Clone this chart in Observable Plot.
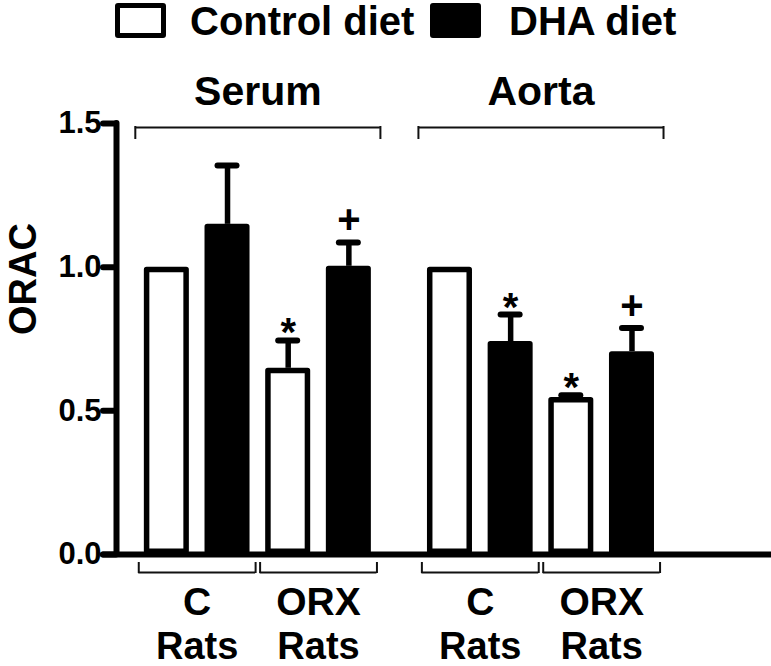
<!DOCTYPE html>
<html><head><meta charset="utf-8">
<script src="https://cdn.jsdelivr.net/npm/d3@7"></script>
<script src="https://cdn.jsdelivr.net/npm/@observablehq/plot@0.6"></script>
<style>
body{margin:0;background:#fff;font-family:"Liberation Sans",Arial,Helvetica,sans-serif;}
#wrap{position:relative;width:771px;height:666px;overflow:hidden;}
#legend{position:relative;height:45px;width:771px;}
.sw{position:absolute;top:3px;height:35px;box-sizing:border-box;border:5.5px solid #000;border-radius:3px;}
.lt{position:absolute;top:1px;font-size:40px;font-weight:bold;line-height:40px;white-space:nowrap;color:#000;}
</style></head><body>
<div id="wrap"><div id="legend"></div><div id="chart"></div></div>
<script>
// ---------- data ----------
const tissues = ["Serum", "Aorta"];
const groups = ["C", "ORX"];
const groupSubLabel = "Rats";
const diets = ["Control diet", "DHA diet"];
// order of values: Serum C, Serum ORX, Aorta C, Aorta ORX
const controlMean = [1.00, 0.648, 1.00, 0.546];
const controlSEM  = [0, 0.097, 0, 0.008];
const controlSig  = ["", "*", "", "*"];
const dhaMean = [1.149, 1.003, 0.741, 0.706];
const dhaSEM  = [0.205, 0.083, 0.094, 0.082];
const dhaSig  = ["", "+", "*", "+"];
const yTicks = [0, 0.5, 1.0, 1.5];
const yTickLabels = ["0.0", "0.5", "1.0", "1.5"];
const yLabel = "ORAC";

// ---------- layout ----------
const TISSUE_STEP = 4 + 2/3;      // slots between tissue blocks
const BAR_HALF = 0.371;           // half bar width in slots
const xMin = -0.83, xMax = 9.95;
const yMax = 1.5;
const FONT = '"Liberation Sans", Arial, Helvetica, sans-serif';
const means = [controlMean, dhaMean], sems = [controlSEM, dhaSEM], sigs = [controlSig, dhaSig];

const rows = [];
const groupRows = [];
const tissueRows = [];
tissues.forEach((t, ti) => {
  groups.forEach((g, gi) => {
    const k = ti * groups.length + gi;
    const base = ti * TISSUE_STEP + gi * 2;
    groupRows.push({name: g, center: base + 0.5});
    diets.forEach((dname, di) => {
      rows.push({tissue: t, group: g, diet: dname, pos: base + di,
                 mean: means[di][k], sem: sems[di][k], sig: sigs[di][k]});
    });
  });
  tissueRows.push({name: t, center: ti * TISSUE_STEP + 1.5});
});
const errRows = rows.filter(d => d.sem > 0);
const sigOffset = {"*": 6, "+": -9};

// ---------- legend ----------
const legend = document.getElementById("legend");
const legendLayout = [
  {box: 115, boxW: 51, text: 190, fill: "#fff"},
  {box: 430, boxW: 51, text: 509, fill: "#000"}
];
diets.forEach((dname, i) => {
  const L = legendLayout[i];
  const b = document.createElement("div");
  b.className = "sw"; b.style.left = L.box + "px"; b.style.width = L.boxW + "px"; b.style.background = L.fill;
  legend.appendChild(b);
  const s = document.createElement("span");
  s.className = "lt"; s.style.left = L.text + "px"; s.textContent = dname;
  legend.appendChild(s);
});

// ---------- chart ----------
const bold = {fontWeight: "bold", fill: "#000"};
const chart = Plot.plot({
  width: 771, height: 621,
  marginTop: 78, marginBottom: 112, marginLeft: 116, marginRight: 1,
  x: {type: "linear", domain: [xMin, xMax], axis: null},
  y: {domain: [0, yMax], axis: null},
  color: {domain: diets, range: ["#ffffff", "#000000"]},
  style: {fontFamily: FONT, background: "white", color: "#000", overflow: "visible"},
  marks: [
    // bars
    Plot.rectY(rows, {x1: d => d.pos - BAR_HALF, x2: d => d.pos + BAR_HALF, y1: 0, y2: "mean",
      fill: "diet", stroke: "#000", strokeWidth: 5.5, strokeLinejoin: "round", inset: 2.75}),
    // error bars
    Plot.ruleX(errRows, {x: "pos", y1: "mean", y2: d => d.mean + d.sem, stroke: "#000", strokeWidth: 5.5}),
    Plot.ruleY(errRows, {y: d => d.mean + d.sem, x1: "pos", x2: "pos", insetLeft: -9.5, insetRight: -9.5,
      stroke: "#000", strokeWidth: 6, strokeLinecap: "round"}),
    // significance markers
    ...Object.keys(sigOffset).map(sym => Plot.text(rows.filter(d => d.sig === sym), {
      x: "pos", y: d => d.mean + d.sem, text: "sig", lineAnchor: "bottom", dy: sigOffset[sym],
      fontSize: 40, ...bold})),
    // y axis
    Plot.ruleX([xMin], {y1: 0, y2: yMax, stroke: "#000", strokeWidth: 6, strokeLinecap: "round"}),
    Plot.ruleY(yTicks, {x1: xMin, x2: xMin, insetLeft: -13, stroke: "#000", strokeWidth: 6, strokeLinecap: "round"}),
    Plot.text(yTicks, {x: xMin, y: d => d, text: (d, i) => yTickLabels[i], textAnchor: "end", dx: -15,
      fontSize: 31, ...bold}),
    Plot.text([yLabel], {frameAnchor: "left", rotate: -90, dx: -93, dy: -4, fontSize: 38, ...bold}),
    // x axis line
    Plot.ruleY([0], {x1: xMin, x2: xMax, insetLeft: -13, stroke: "#000", strokeWidth: 6, strokeLinecap: "round"}),
    // tissue brackets and labels
    Plot.ruleY(tissueRows, {y: yMax, x1: d => d.center - 2.02, x2: d => d.center + 2.02, dy: 4, stroke: "#111", strokeWidth: 2}),
    Plot.ruleX(tissueRows.flatMap(d => [d.center - 2.02, d.center + 2.02]), {x: d => d, y1: yMax, y2: yMax,
      insetTop: 3, insetBottom: -16, stroke: "#111", strokeWidth: 2}),
    Plot.text(tissueRows, {x: "center", frameAnchor: "top", text: "name", lineAnchor: "bottom", dy: -19,
      fontSize: 41, ...bold}),
    // group brackets and labels
    Plot.ruleY(groupRows, {y: 0, x1: d => d.center - 0.963, x2: d => d.center + 0.963, dy: 18, stroke: "#111", strokeWidth: 2}),
    Plot.ruleX(groupRows.flatMap(d => [d.center - 0.963, d.center + 0.963]), {x: d => d, y1: 0, y2: 0,
      insetTop: 8, insetBottom: -19, stroke: "#111", strokeWidth: 2}),
    Plot.text(groupRows, {x: "center", y: 0, text: "name", lineAnchor: "bottom", dy: 60, fontSize: 39, ...bold}),
    Plot.text(groupRows, {x: "center", y: 0, text: () => groupSubLabel, lineAnchor: "bottom", dy: 104, fontSize: 38, ...bold})
  ]
});
document.getElementById("chart").appendChild(chart);
</script>
</body></html>
